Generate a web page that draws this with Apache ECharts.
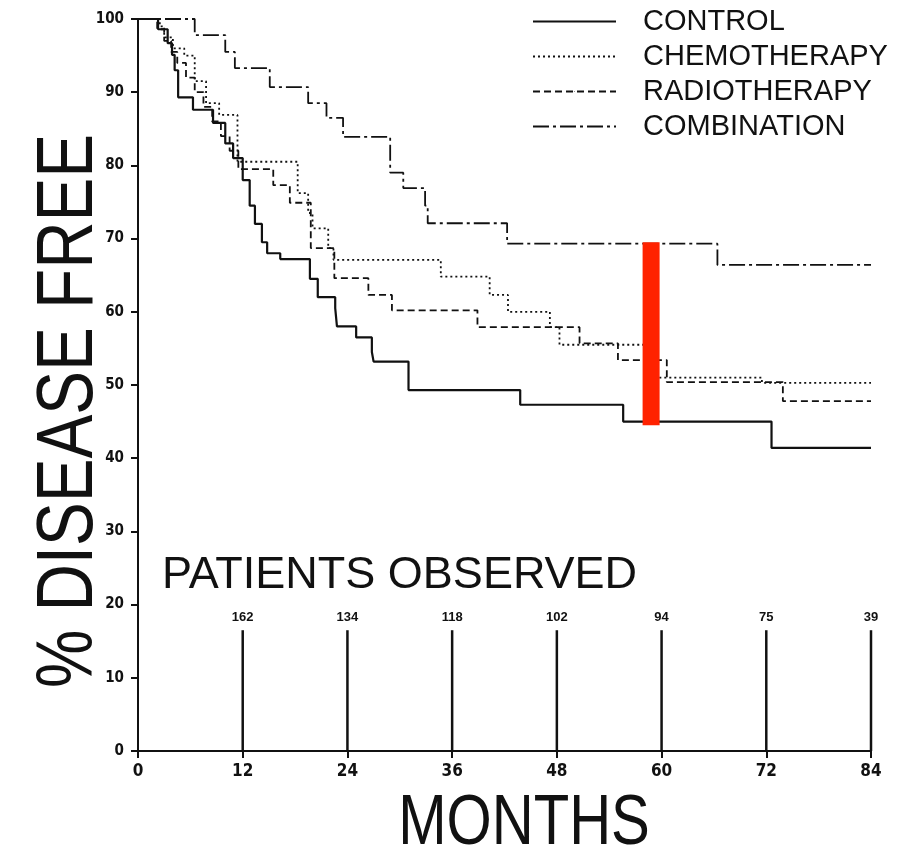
<!DOCTYPE html>
<html>
<head>
<meta charset="utf-8">
<script src="https://cdn.jsdelivr.net/npm/echarts@6/dist/echarts.min.js"></script>
<style>
html, body { margin: 0; padding: 0; background: #fff; }
#chart { width: 902px; height: 856px; }
</style>
</head>
<body>
<div id="chart"></div>
<script>
// step points: [month, % disease free from that month on]
var controlSteps = [[0, 100], [2.3, 98.6], [3.4, 96.7], [3.9, 95.1], [4.2, 93.0], [4.6, 89.3], [6.3, 87.6],
    [8.6, 85.8], [10.0, 83.0], [10.9, 81.0], [12.0, 78.0], [12.8, 74.5], [13.4, 72.0], [14.2, 69.5],
    [14.8, 68.0], [16.3, 67.2], [19.7, 64.5], [20.6, 62.0], [22.6, 60.5], [22.8, 58.0], [25.0, 56.5],
    [26.8, 54.5], [27.0, 53.2], [31.0, 49.3], [43.8, 47.3], [55.6, 45.0], [72.6, 41.4], [84, 41.4]];
var chemoSteps = [[0, 100], [2.5, 99.0], [3.0, 97.5], [4.0, 96.0], [5.3, 95.0], [6.5, 91.5], [7.8, 88.5],
    [9.3, 86.9], [11.4, 80.5], [18.3, 76.2], [19.5, 73.5], [20.0, 71.4], [21.8, 68.7], [22.4, 67.1],
    [34.7, 64.8], [40.3, 62.3], [42.4, 60.0], [47.2, 57.9], [48.3, 55.5], [58.8, 51.0], [71.5, 50.3], [84, 50.3]];
var radioSteps = [[0, 100], [2.2, 98.6], [3.0, 97.0], [3.8, 95.5], [4.5, 94.0], [5.5, 92.0], [6.5, 90.0],
    [7.5, 88.0], [8.5, 86.0], [9.5, 84.0], [10.5, 82.0], [11.5, 79.5], [15.5, 77.3], [17.4, 74.9],
    [19.8, 68.7], [22.5, 64.6], [26.4, 62.3], [29.1, 60.2], [38.9, 57.9], [50.6, 55.7], [55.0, 53.4],
    [60.6, 50.4], [73.9, 47.8], [84, 47.8]];
var comboSteps = [[0, 100], [6.5, 97.8], [10.0, 95.5], [11.1, 93.3], [15.1, 90.7], [19.5, 88.5],
    [21.6, 86.5], [23.5, 83.9], [28.9, 79.0], [30.4, 76.9], [32.9, 74.5], [33.2, 72.1], [42.3, 69.3],
    [66.4, 66.4], [84, 66.4]];

var patientMonths = [12, 24, 36, 48, 60, 72, 84];
var patientCounts = [162, 134, 118, 102, 94, 75, 39];
var observedTop = 16.5;

// red marker: [month, low %, high %]
var redMark = [[58.8, 44.5, 69.5]];

var narrow = "'DejaVu Sans Condensed', sans-serif";
var sans = "'Liberation Sans', Arial, sans-serif";
var ink = '#111';

var myChart = echarts.init(document.getElementById('chart'));

function kmSeries(name, steps, dash, width) {
    return {
        name: name,
        type: 'line',
        step: 'end',
        symbol: 'none',
        data: steps,
        lineStyle: { color: ink, width: width, type: dash },
        itemStyle: { color: ink },
        z: 3
    };
}

var option = {
    animation: false,
    backgroundColor: '#fff',
    grid: { left: 138, right: 31, top: 19, bottom: 105 },
    legend: {
        orient: 'vertical',
        left: 527,
        top: 2,
        itemWidth: 83,
        itemHeight: 1,
        itemGap: 6,
        data: ['CONTROL', 'CHEMOTHERAPY', 'RADIOTHERAPY', 'COMBINATION'],
        textStyle: { fontFamily: sans, fontSize: 29, color: ink, padding: [0, 0, 0, 22] }
    },
    xAxis: {
        type: 'value',
        min: 0, max: 84, interval: 12,
        splitLine: { show: false },
        axisLine: { lineStyle: { color: ink, width: 2 } },
        axisTick: { length: 7, lineStyle: { color: ink, width: 2 } },
        axisLabel: { color: ink, fontSize: 17, fontWeight: 'bold', fontFamily: narrow, margin: 12 }
    },
    yAxis: {
        type: 'value',
        min: 0, max: 100, interval: 10,
        splitLine: { show: false },
        axisLine: { show: true, lineStyle: { color: ink, width: 2 } },
        axisTick: { show: true, length: 7, lineStyle: { color: ink, width: 2 } },
        axisLabel: { color: ink, fontSize: 15, fontWeight: 'bold', fontFamily: narrow, margin: 14 }
    },
    graphic: [
        { type: 'text', left: 162, top: 553, style: { text: 'PATIENTS OBSERVED', fill: ink, font: '45px ' + sans } },
        { type: 'text', x: 524, y: 825, scaleX: 0.83, style: { text: 'MONTHS', fill: ink, font: '70px ' + sans, textAlign: 'center', textVerticalAlign: 'middle' } },
        { type: 'text', x: 70, y: 411, rotation: Math.PI / 2, scaleX: 0.82, style: { text: '% DISEASE FREE', fill: ink, font: '80px ' + sans, textAlign: 'center', textVerticalAlign: 'middle' } }
    ],
    series: [
        kmSeries('CONTROL', controlSteps, 'solid', 2.2),
        kmSeries('CHEMOTHERAPY', chemoSteps, [2, 3], 1.8),
        kmSeries('RADIOTHERAPY', radioSteps, [7, 4], 1.8),
        kmSeries('COMBINATION', comboSteps, [16, 4, 3, 4], 1.8),
        {
            type: 'custom',
            data: patientMonths.map(function (m, i) { return [m, patientCounts[i]]; }),
            renderItem: function (params, api) {
                var m = api.value(0);
                var p0 = api.coord([m, 0]);
                var p1 = api.coord([m, observedTop]);
                return {
                    type: 'group',
                    children: [
                        { type: 'line', shape: { x1: p0[0], y1: p0[1], x2: p1[0], y2: p1[1] }, style: { stroke: ink, lineWidth: 2.5 } },
                        { type: 'text', x: p1[0], y: p1[1] - 13, style: { text: String(api.value(1)), fill: ink, font: 'bold 13px ' + sans, textAlign: 'center', textVerticalAlign: 'middle' } }
                    ]
                };
            },
            z: 2
        },
        {
            type: 'custom',
            data: redMark,
            renderItem: function (params, api) {
                var top = api.coord([api.value(0), api.value(2)]);
                var bot = api.coord([api.value(0), api.value(1)]);
                return { type: 'rect', shape: { x: top[0] - 8.5, y: top[1], width: 17, height: bot[1] - top[1] }, style: { fill: '#ff2200' } };
            },
            z: 5
        }
    ]
};

myChart.setOption(option);
</script>
</body>
</html>
